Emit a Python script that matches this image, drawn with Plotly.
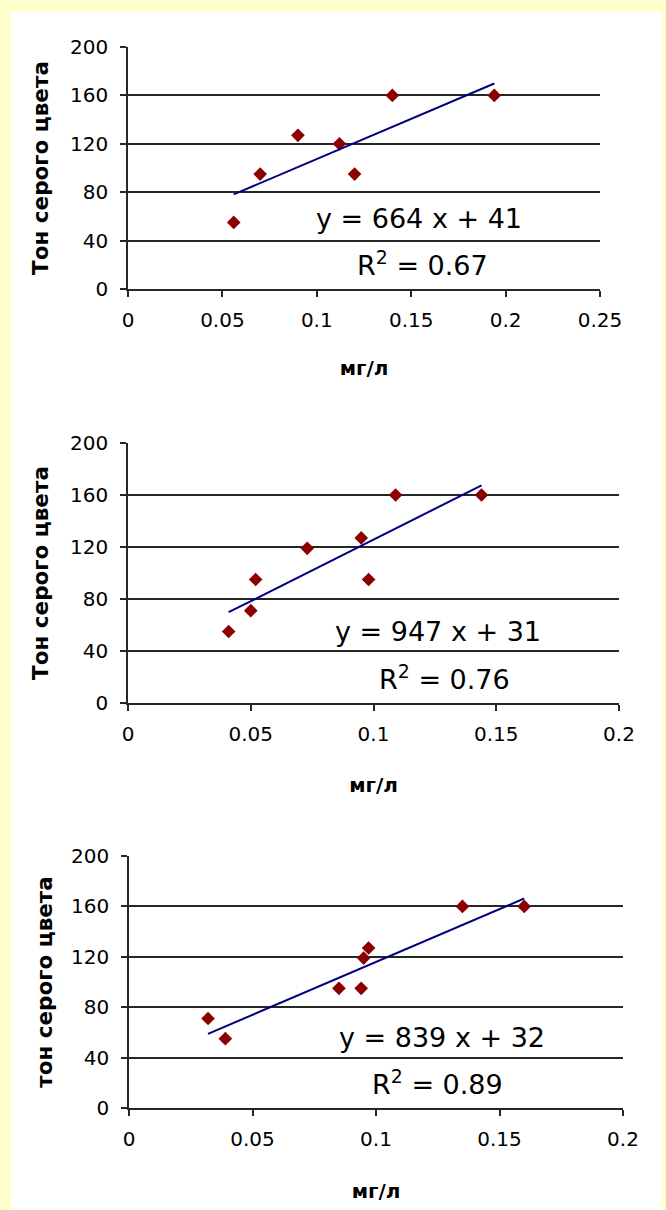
import plotly.graph_objects as go

W, H = 666, 1210

# Concentration (mg/L) vs grey tone, three calibration series
conc_1 = [0.056, 0.070, 0.090, 0.112, 0.120, 0.140, 0.194]
tone_1 = [55, 95, 127, 120, 95, 160, 160]

conc_2 = [0.041, 0.050, 0.052, 0.073, 0.095, 0.098, 0.109, 0.144]
tone_2 = [55, 71, 95, 119, 127, 95, 160, 160]

conc_3 = [0.032, 0.039, 0.085, 0.094, 0.095, 0.097, 0.135, 0.160]
tone_3 = [71, 55, 95, 95, 119, 127, 160, 160]

slopes = [664, 947, 839]
intercepts = [41, 31, 32]
r2_values = ["0.67", "0.76", "0.89"]

y_titles = ["Тон серого цвета", "Тон серого цвета", "тон серого цвета"]
x_title = "мг/л"
x_max = [0.25, 0.2, 0.2]
y_ticks = [0, 40, 80, 120, 160, 200]

series = [(conc_1, tone_1), (conc_2, tone_2), (conc_3, tone_3)]

# plot-area boxes in page pixels: left, right, top, bottom
boxes = [(128, 600, 47, 289), (128, 619, 443, 703), (129, 623, 856, 1108)]
eq_pos = [(419, 219), (438, 631), (442, 1037)]
r2_pos = [(423, 264), (444, 677), (437, 1082)]
x_title_gap = [30, 33, 34]
y_title_gap = [16, 16, 13]

YELLOW = "#FFFFCC"
GRID = "#262626"
NUM_FONT = "DejaVu Sans"


def fx(px):
    return px / W


def fy(py):
    return 1 - py / H


fig = go.Figure()
annotations = []
layout_axes = {}

for i, ((xs, ys), box) in enumerate(zip(series, boxes)):
    n = "" if i == 0 else str(i + 1)
    xa, ya = "x" + n, "y" + n
    left, right, top, bottom = box

    fig.add_trace(go.Scatter(
        x=xs, y=ys, mode="markers", xaxis=xa, yaxis=ya,
        marker=dict(symbol="diamond", size=10.5, color="#8B0000", line=dict(width=0)),
        showlegend=False, hoverinfo="x+y",
    ))

    # linear trend line from the stated fit, over the data range
    x0, x1 = min(xs), max(xs)
    fig.add_trace(go.Scatter(
        x=[x0, x1], y=[slopes[i] * x0 + intercepts[i], slopes[i] * x1 + intercepts[i]],
        mode="lines", xaxis=xa, yaxis=ya,
        line=dict(color="#000080", width=2),
        showlegend=False, hoverinfo="skip",
    ))

    layout_axes["xaxis" + n] = dict(
        domain=[fx(left), fx(right)], anchor=ya, range=[0, x_max[i]],
        dtick=0.05, tick0=0, showgrid=False, zeroline=False, automargin=False,
        showline=True, linecolor=GRID, linewidth=1.5,
        ticks="outside", ticklen=6, tickcolor=GRID, tickwidth=1.5,
        tickfont=dict(family=NUM_FONT, size=20, color="#000"),
        ticklabelstandoff=6, fixedrange=True,
        title=dict(text=x_title, standoff=x_title_gap[i],
                   font=dict(family=NUM_FONT, size=20, color="#000", weight="bold")),
    )
    layout_axes["yaxis" + n] = dict(
        domain=[fy(bottom), fy(top)], anchor=xa, range=[0, 200],
        tickvals=y_ticks, showgrid=True, gridcolor=GRID, gridwidth=1.5,
        zeroline=False, showline=True, linecolor=GRID, linewidth=1.5, automargin=False,
        ticks="outside", ticklen=6, tickcolor=GRID, tickwidth=1.5,
        tickfont=dict(family=NUM_FONT, size=20, color="#000"),
        ticklabelstandoff=8, fixedrange=True,
        title=dict(text=y_titles[i], standoff=y_title_gap[i],
                   font=dict(family=NUM_FONT, size=21.5, color="#000", weight="bold")),
    )

    annotations.append(dict(
        text=f"y = {slopes[i]} x + {intercepts[i]}",
        x=fx(eq_pos[i][0]), y=fy(eq_pos[i][1]), xref="paper", yref="paper",
        xanchor="center", yanchor="middle", showarrow=False,
        font=dict(family=NUM_FONT, size=27, color="#000"),
    ))
    annotations.append(dict(
        text=f"R<sup>2</sup> = {r2_values[i]}",
        x=fx(r2_pos[i][0]), y=fy(r2_pos[i][1]), xref="paper", yref="paper",
        xanchor="center", yanchor="middle", showarrow=False,
        font=dict(family=NUM_FONT, size=27, color="#000"),
    ))

fig.update_layout(
    width=W, height=H, autosize=False,
    margin=dict(l=0, r=0, t=0, b=0, pad=0, autoexpand=False),
    paper_bgcolor=YELLOW, plot_bgcolor="rgba(0,0,0,0)",
    shapes=[dict(type="rect", xref="paper", yref="paper",
                 x0=fx(11), x1=fx(662), y0=0, y1=fy(12),
                 fillcolor="white", line=dict(width=0), layer="below")],
    annotations=annotations,
    **layout_axes,
)

fig.write_html("out.html", config={"displayModeBar": False})
